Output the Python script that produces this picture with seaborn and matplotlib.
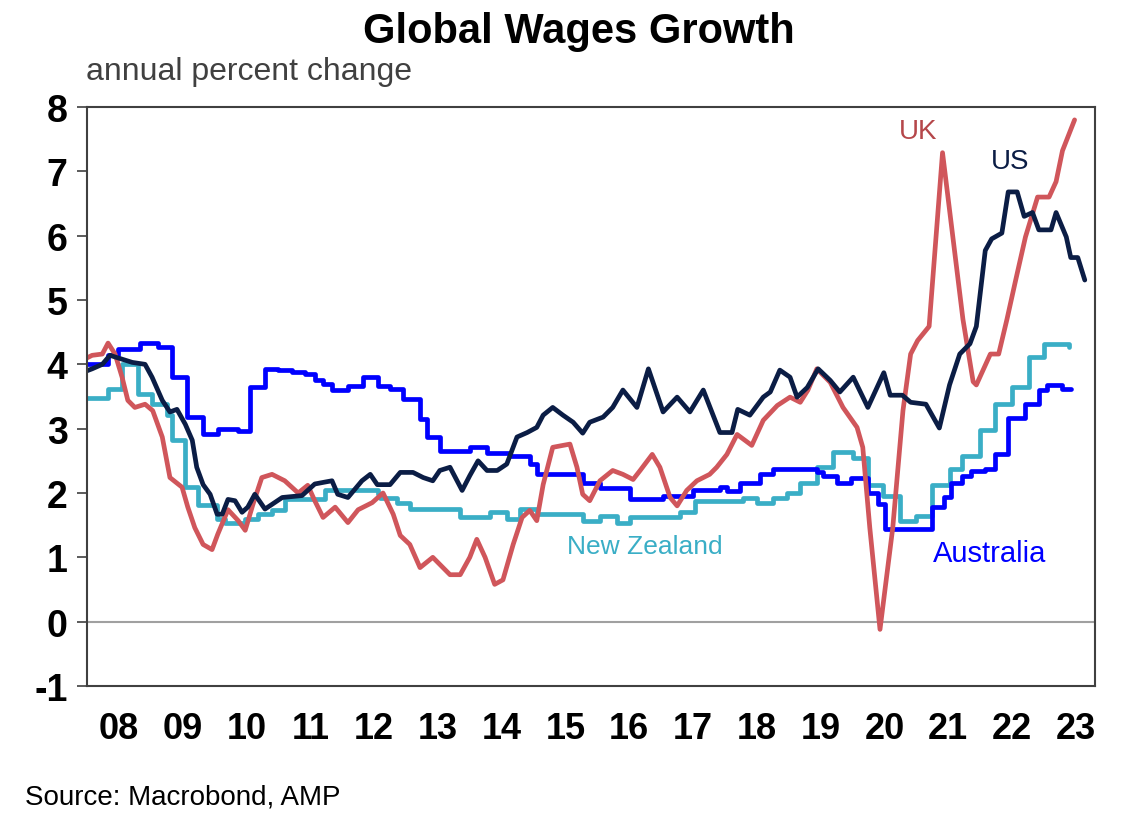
import pandas as pd
import matplotlib
matplotlib.use('Agg')
import matplotlib.pyplot as plt
import seaborn as sns

# values (decimal year, annual % change)
us_points = [
    (2008.0, 3.9), (2008.08, 3.93), (2008.24, 4.0), (2008.36, 4.14), (2008.55, 4.08),
    (2008.71, 4.03), (2008.91, 4.0), (2009.02, 3.8), (2009.18, 3.44), (2009.3, 3.26),
    (2009.41, 3.3), (2009.54, 3.07), (2009.65, 2.82), (2009.72, 2.4), (2009.82, 2.13),
    (2009.93, 1.98), (2010.04, 1.67), (2010.12, 1.67), (2010.21, 1.9), (2010.32, 1.88),
    (2010.43, 1.7), (2010.52, 1.78), (2010.63, 1.98), (2010.79, 1.75), (2011.06, 1.93),
    (2011.37, 1.96), (2011.57, 2.14), (2011.73, 2.17), (2011.84, 2.19), (2011.93, 1.98),
    (2012.09, 1.93), (2012.31, 2.19), (2012.44, 2.29), (2012.55, 2.13), (2012.75, 2.13),
    (2012.91, 2.32), (2013.11, 2.32), (2013.27, 2.24), (2013.42, 2.19), (2013.53, 2.35),
    (2013.69, 2.4), (2013.88, 2.04), (2014.0, 2.27), (2014.13, 2.5), (2014.27, 2.35),
    (2014.43, 2.35), (2014.58, 2.45), (2014.74, 2.87), (2014.9, 2.94), (2015.05, 3.02),
    (2015.15, 3.21), (2015.3, 3.33), (2015.46, 3.21), (2015.62, 3.1), (2015.77, 2.93),
    (2015.88, 3.1), (2016.09, 3.18), (2016.24, 3.33), (2016.4, 3.6), (2016.62, 3.33),
    (2016.8, 3.93), (2017.03, 3.26), (2017.25, 3.49), (2017.45, 3.26), (2017.66, 3.6),
    (2017.92, 2.94), (2018.11, 2.94), (2018.2, 3.3), (2018.39, 3.21), (2018.6, 3.49),
    (2018.71, 3.57), (2018.86, 3.91), (2019.02, 3.8), (2019.13, 3.49), (2019.29, 3.64),
    (2019.46, 3.93), (2019.65, 3.75), (2019.8, 3.57), (2020.01, 3.8), (2020.24, 3.33),
    (2020.49, 3.87), (2020.59, 3.52), (2020.78, 3.52), (2020.91, 3.41), (2021.15, 3.38),
    (2021.36, 3.01), (2021.52, 3.68), (2021.68, 4.16), (2021.84, 4.32), (2021.94, 4.59),
    (2022.08, 5.77), (2022.18, 5.95), (2022.34, 6.04), (2022.44, 6.68), (2022.58, 6.68),
    (2022.69, 6.3), (2022.82, 6.36), (2022.92, 6.09), (2023.11, 6.09), (2023.19, 6.36),
    (2023.35, 5.98), (2023.42, 5.66), (2023.53, 5.66), (2023.64, 5.31),
]

uk_points = [
    (2008.0, 4.1), (2008.08, 4.14), (2008.24, 4.16), (2008.33, 4.33), (2008.44, 4.16),
    (2008.55, 3.8), (2008.64, 3.44), (2008.75, 3.33), (2008.91, 3.38), (2009.03, 3.28),
    (2009.18, 2.87), (2009.3, 2.24), (2009.49, 2.09), (2009.58, 1.78), (2009.69, 1.46),
    (2009.82, 1.2), (2009.96, 1.12), (2010.05, 1.36), (2010.21, 1.74), (2010.37, 1.57),
    (2010.48, 1.42), (2010.6, 1.82), (2010.74, 2.24), (2010.9, 2.29), (2011.1, 2.19),
    (2011.31, 2.0), (2011.46, 2.12), (2011.57, 1.88), (2011.7, 1.62), (2011.89, 1.78),
    (2012.09, 1.54), (2012.25, 1.74), (2012.47, 1.85), (2012.64, 2.0), (2012.8, 1.67),
    (2012.91, 1.34), (2013.06, 1.2), (2013.22, 0.84), (2013.42, 1.0), (2013.69, 0.73),
    (2013.85, 0.73), (2014.0, 1.0), (2014.11, 1.28), (2014.24, 1.0), (2014.39, 0.58),
    (2014.52, 0.65), (2014.68, 1.2), (2014.82, 1.62), (2014.94, 1.73), (2015.05, 1.57),
    (2015.15, 2.13), (2015.3, 2.71), (2015.46, 2.74), (2015.57, 2.76), (2015.68, 2.4),
    (2015.77, 1.98), (2015.88, 1.88), (2016.04, 2.19), (2016.24, 2.35), (2016.4, 2.29),
    (2016.56, 2.21), (2016.67, 2.35), (2016.86, 2.6), (2016.98, 2.4), (2017.14, 1.93),
    (2017.25, 1.8), (2017.4, 2.04), (2017.56, 2.19), (2017.76, 2.29), (2017.87, 2.4),
    (2018.03, 2.6), (2018.19, 2.91), (2018.42, 2.74), (2018.6, 3.13), (2018.82, 3.36),
    (2019.02, 3.49), (2019.18, 3.41), (2019.3, 3.6), (2019.44, 3.93), (2019.65, 3.72),
    (2019.85, 3.33), (2020.07, 3.02), (2020.16, 2.71), (2020.27, 1.46), (2020.43, -0.12),
    (2020.63, 1.46), (2020.79, 3.28), (2020.91, 4.16), (2021.02, 4.37), (2021.2, 4.59),
    (2021.41, 7.29), (2021.73, 4.7), (2021.89, 3.73), (2021.94, 3.68), (2022.16, 4.16),
    (2022.29, 4.16), (2022.42, 4.7), (2022.55, 5.28), (2022.71, 5.98), (2022.9, 6.6),
    (2023.08, 6.6), (2023.19, 6.84), (2023.29, 7.32), (2023.48, 7.8),
]

# quarterly wage price indices: level starts at each year, drawn as steps
au_points = [
    (2008.0, 4.0), (2008.33, 4.14), (2008.49, 4.24), (2008.83, 4.33), (2009.11, 4.27),
    (2009.33, 3.8), (2009.57, 3.18), (2009.82, 2.91), (2010.05, 2.99), (2010.37, 2.97),
    (2010.55, 3.64), (2010.79, 3.93), (2010.99, 3.91), (2011.21, 3.88), (2011.42, 3.85),
    (2011.57, 3.75), (2011.7, 3.7), (2011.84, 3.6), (2012.09, 3.66), (2012.33, 3.8),
    (2012.56, 3.67), (2012.75, 3.62), (2012.95, 3.46), (2013.22, 3.15), (2013.33, 2.87),
    (2013.53, 2.66), (2014.0, 2.71), (2014.27, 2.62), (2014.63, 2.58), (2014.94, 2.45),
    (2015.05, 2.3), (2015.77, 2.16), (2016.04, 2.08), (2016.51, 1.9), (2017.03, 1.96),
    (2017.5, 2.04), (2017.92, 2.1), (2018.03, 2.03), (2018.24, 2.16), (2018.55, 2.3),
    (2018.75, 2.37), (2019.44, 2.33), (2019.54, 2.27), (2019.76, 2.16), (2019.97, 2.23),
    (2020.24, 2.0), (2020.4, 1.83), (2020.51, 1.44), (2021.25, 1.78), (2021.44, 1.94),
    (2021.55, 2.15), (2021.71, 2.26), (2021.86, 2.34), (2022.08, 2.37), (2022.23, 2.61),
    (2022.44, 3.17), (2022.71, 3.38), (2022.92, 3.6), (2023.05, 3.68), (2023.29, 3.62),
    (2023.42, 3.62),
]

nz_points = [
    (2008.0, 3.47), (2008.33, 3.62), (2008.55, 4.0), (2008.8, 3.54), (2009.02, 3.38),
    (2009.25, 3.22), (2009.33, 2.82), (2009.54, 2.09), (2009.74, 1.82), (2010.04, 1.59),
    (2010.16, 1.54), (2010.48, 1.59), (2010.68, 1.67), (2010.9, 1.73), (2011.1, 1.9),
    (2011.73, 2.04), (2012.56, 1.98), (2012.6, 1.93), (2012.86, 1.85), (2013.06, 1.75),
    (2013.85, 1.62), (2014.32, 1.7), (2014.58, 1.59), (2014.79, 1.75), (2015.05, 1.67),
    (2015.77, 1.57), (2016.04, 1.65), (2016.3, 1.54), (2016.51, 1.62), (2017.29, 1.7),
    (2017.53, 1.88), (2018.28, 1.93), (2018.5, 1.85), (2018.75, 1.93), (2018.97, 2.0),
    (2019.18, 2.16), (2019.44, 2.4), (2019.69, 2.63), (2020.01, 2.55), (2020.24, 2.13),
    (2020.48, 1.96), (2020.74, 1.57), (2020.99, 1.64), (2021.25, 2.13), (2021.52, 2.37),
    (2021.71, 2.58), (2021.99, 2.98), (2022.23, 3.38), (2022.5, 3.65), (2022.76, 4.11),
    (2023.0, 4.31), (2023.4, 4.27),
]

year_labels = ['08', '09', '10', '11', '12', '13', '14', '15',
               '16', '17', '18', '19', '20', '21', '22', '23']

colors = {'US': '#0b1d45', 'UK': '#d0565b', 'Australia': '#0000ff', 'New Zealand': '#3aaec6'}


def to_df(points):
    return pd.DataFrame(points, columns=['year', 'value'])


sns.set_style('white')
plt.rcParams['font.family'] = ['Liberation Sans', 'DejaVu Sans']
plt.rcParams['text.color'] = 'black'
plt.rcParams['xtick.color'] = 'black'
plt.rcParams['ytick.color'] = 'black'

fig = plt.figure(figsize=(11.29, 8.29), dpi=100)
ax = fig.add_axes([87 / 1129, 1 - 687 / 829, 1008 / 1129, 579 / 829])

ax.axhline(0, color='#a0a0a0', linewidth=1.5, zorder=1)

lw = 3.4
sns.lineplot(data=to_df(nz_points), x='year', y='value', ax=ax, color=colors['New Zealand'],
             linewidth=lw, drawstyle='steps-post')
sns.lineplot(data=to_df(au_points), x='year', y='value', ax=ax, color=colors['Australia'],
             linewidth=lw, drawstyle='steps-post')
sns.lineplot(data=to_df(uk_points), x='year', y='value', ax=ax, color=colors['UK'], linewidth=lw)
sns.lineplot(data=to_df(us_points), x='year', y='value', ax=ax, color=colors['US'], linewidth=lw)

ax.set_xlim(2008, 2023.8)
ax.set_ylim(-1, 8)
ax.set_xlabel('')
ax.set_ylabel('')

# year boundaries get the tick marks, labels sit mid-year
ax.set_xticks(range(2008, 2024))
ax.set_xticklabels([])
ax.set_xticks([2008.5 + i for i in range(len(year_labels))], minor=True)
ax.set_xticklabels(year_labels, minor=True, fontsize=26, fontweight='bold')
ax.tick_params(axis='x', which='major', direction='in', length=7, width=1.2, color='#404040')
ax.tick_params(axis='x', which='minor', length=0, pad=18)
ax.set_yticks(range(-1, 9))
ax.set_yticklabels([str(v) for v in range(-1, 9)], fontsize=27, fontweight='bold')
ax.tick_params(axis='y', direction='out', length=7, width=1.2, color='#404040', pad=7, left=True)

for side in ax.spines.values():
    side.set_color('#404040')
    side.set_linewidth(1.5)

ax.text(2021.02, 7.63, 'UK', color='#b5474a', fontsize=20, ha='center', va='center')
ax.text(2022.47, 7.16, 'US', color=colors['US'], fontsize=20, ha='center', va='center')
ax.text(2016.75, 1.17, 'New Zealand', color=colors['New Zealand'], fontsize=19, ha='center', va='center')
ax.text(2022.15, 1.07, 'Australia', color=colors['Australia'], fontsize=21, ha='center', va='center')

fig.text(579 / 1129, 1 - 43 / 829, 'Global Wages Growth', fontsize=30, fontweight='bold',
         ha='center', va='baseline')
fig.text(86 / 1129, 1 - 80 / 829, 'annual percent change', fontsize=23, color='#404040',
         ha='left', va='baseline')
fig.text(25 / 1129, 1 - 805 / 829, 'Source: Macrobond, AMP', fontsize=20, ha='left', va='baseline')

fig.savefig('out.png', dpi=100)
